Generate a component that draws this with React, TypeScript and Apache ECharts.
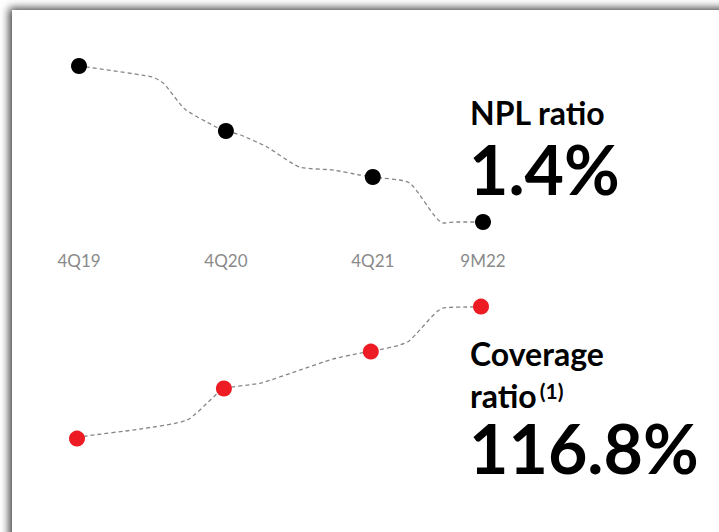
import React, { useEffect, useRef } from "react";
import * as echarts from "echarts";

// Reporting periods, placed on a time scale measured in years after 4Q19
const periods = ["4Q19", "4Q20", "4Q21", "9M22"];
const periodPos = [0, 1, 2, 2.75];

// Ratios (%) per period
const nplRatio = [2.96, 2.31, 1.85, 1.4];
const coverageRatio = [72.8, 89.5, 101.8, 116.8];

// Dashed trend connectors (years, %), passing through each period's value
const nplTrend: [number, number][] = [
  [0, 2.96], [0.5, 2.85], [0.58, 2.78], [0.72, 2.53], [0.92, 2.36], [1, 2.31],
  [1.1, 2.27], [1.28, 2.15], [1.5, 1.95], [1.73, 1.92], [1.91, 1.87], [2, 1.85],
  [2.25, 1.79], [2.48, 1.39], [2.57, 1.4], [2.75, 1.4],
];
const coverageTrend: [number, number][] = [
  [0, 72.8], [0.07, 73.7], [0.43, 76], [0.75, 79], [0.93, 86.7], [1, 89.5],
  [1.25, 91.3], [1.52, 95.7], [1.74, 99.3], [1.93, 101.3], [2, 101.8],
  [2.25, 105], [2.49, 116.3], [2.7, 116.7], [2.75, 116.8],
];

const headlineFont = "Lato, 'Open Sans', sans-serif";

export default function App() {
  const ref = useRef<HTMLDivElement>(null);

  useEffect(() => {
    if (!ref.current) return;
    const chart = echarts.init(ref.current, undefined, { renderer: "svg" });

    const dashed = {
      color: "#868686",
      width: 1.3,
      type: [4, 3] as number[],
    };

    chart.setOption({
      animation: false,
      backgroundColor: "#ffffff",
      grid: [
        { left: 79, width: 404, top: 42, height: 200 },
        { left: 77, width: 404, top: 267, height: 210 },
      ],
      xAxis: [
        {
          type: "value",
          gridIndex: 0,
          min: 0,
          max: 2.75,
          axisLine: { show: false },
          axisTick: { show: false },
          splitLine: { show: false },
          axisLabel: {
            customValues: periodPos,
            margin: 10,
            color: "#8a8a8a",
            fontSize: 17,
            fontFamily: headlineFont,
            formatter: (v: number) => {
              const i = periodPos.findIndex((p) => Math.abs(p - v) < 1e-6);
              return i >= 0 ? periods[i] : "";
            },
          },
        },
        {
          type: "value",
          gridIndex: 1,
          min: 0,
          max: 2.75,
          show: false,
        },
      ],
      yAxis: [
        { type: "value", gridIndex: 0, min: 1.2, max: 3.2, show: false },
        { type: "value", gridIndex: 1, min: 60, max: 130, show: false },
      ],
      series: [
        {
          type: "line",
          xAxisIndex: 0,
          yAxisIndex: 0,
          data: nplTrend,
          smooth: 0.2,
          showSymbol: false,
          lineStyle: dashed,
          z: 1,
        },
        {
          type: "scatter",
          xAxisIndex: 0,
          yAxisIndex: 0,
          data: periodPos.map((x, i) => [x, nplRatio[i]]),
          symbolSize: 16,
          itemStyle: { color: "#000000", opacity: 1 },
          z: 2,
        },
        {
          type: "line",
          xAxisIndex: 1,
          yAxisIndex: 1,
          data: coverageTrend,
          smooth: 0.2,
          showSymbol: false,
          lineStyle: dashed,
          z: 1,
        },
        {
          type: "scatter",
          xAxisIndex: 1,
          yAxisIndex: 1,
          data: periodPos.map((x, i) => [x, coverageRatio[i]]),
          symbolSize: 16,
          itemStyle: { color: "#ed1c24", opacity: 1 },
          z: 2,
        },
      ],
      graphic: [
        // card with a soft shadow along its top and left edges
        {
          type: "rect",
          z: -10,
          silent: true,
          shape: { x: 12, y: 10, width: 800, height: 600 },
          style: {
            fill: "#ffffff",
            shadowBlur: 9,
            shadowColor: "rgba(0,0,0,0.75)",
            shadowOffsetX: -3,
            shadowOffsetY: -2,
          },
        },
        {
          type: "text",
          left: 470,
          top: 96,
          style: {
            text: "NPL ratio",
            font: `bold 32px ${headlineFont}`,
            lineHeight: 30,
            fill: "#000",
          },
        },
        {
          type: "text",
          left: 469,
          top: 134,
          style: {
            text: "1.4%",
            font: `bold 68px ${headlineFont}`,
            lineHeight: 54,
            fill: "#000",
          },
        },
        {
          type: "text",
          left: 470,
          top: 337,
          style: {
            text: "Coverage",
            font: `bold 32px ${headlineFont}`,
            lineHeight: 30,
            fill: "#000",
          },
        },
        {
          type: "text",
          left: 470,
          top: 379,
          style: {
            text: "{r|ratio}{s|(1)}",
            lineHeight: 30,
            rich: {
              r: { font: `bold 32px ${headlineFont}`, fill: "#000", lineHeight: 30 },
              s: {
                font: `bold 21px ${headlineFont}`,
                fill: "#000",
                verticalAlign: "top",
                lineHeight: 22,
                padding: [0, 0, 0, 3],
              },
            },
          },
        },
        {
          type: "text",
          left: 469,
          top: 413,
          style: {
            text: "116.8%",
            font: `bold 68px ${headlineFont}`,
            lineHeight: 52,
            fill: "#000",
          },
        },
      ],
    });

    return () => chart.dispose();
  }, []);

  return (
    <div
      ref={ref}
      style={{ position: "fixed", left: 0, top: 0, width: 719, height: 532 }}
    />
  );
}
